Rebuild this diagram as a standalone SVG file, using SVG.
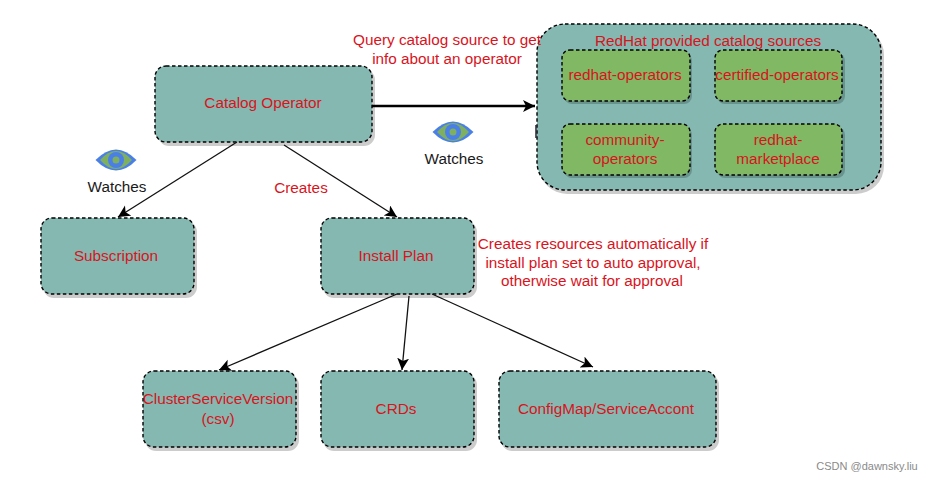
<svg xmlns="http://www.w3.org/2000/svg" width="936" height="483" viewBox="0 0 936 483">
<style>
text{font-family:"Liberation Sans",Arial,sans-serif;font-size:15.3px;fill:#d8141c;text-anchor:middle}
.k{fill:#1a1a1a}
.n{fill:#84b8b1;stroke:#000;stroke-width:1.4;stroke-dasharray:3.500 2.500}
.g{fill:#80b863;stroke:#000;stroke-width:1.4;stroke-dasharray:3.500 2.500}
.s{fill:#000;fill-opacity:.2;stroke:none}
.c{stroke:#111;stroke-width:1.3;fill:none}
</style>
<defs>
<marker id="a" markerUnits="userSpaceOnUse" markerWidth="14" markerHeight="14" refX="12" refY="6" orient="auto"><path d="M0 0L12 6L0 12L3 6Z" fill="#000"/></marker>
<g id="eye"><path d="M-20.500 0Q0 -21 20.500 0Q0 21 -20.500 0Z" fill="#4a7fe8"/><path d="M-16 0Q0 -18 16 0Q0 18 -16 0Z" fill="#7fb060"/><circle r="8" fill="#4a7fe8"/><circle r="3.500" fill="#7fb060"/></g>
</defs>
<rect width="936" height="483" fill="#fff"/>
<g id="catalog-sources">
<rect class="s" x="539" y="27" width="345" height="167" rx="28"/>
<rect class="n" x="537" y="24" width="344" height="166" rx="28"/>
<path d="M536 125V138" stroke="#223" stroke-width="1.500" fill="none"/>
<text x="708" y="46">RedHat provided catalog sources</text>
</g>
<g id="redhat-operators"><rect class="s" x="564" y="53" width="128" height="51" rx="8"/><rect class="g" x="562" y="50" width="128" height="51" rx="8"/><text x="625" y="80">redhat-operators</text></g>
<g id="certified-operators"><rect class="s" x="717" y="53" width="128" height="51" rx="8"/><rect class="g" x="715" y="50" width="127" height="51" rx="8"/><text x="777" y="80">certified-operators</text></g>
<g id="community-operators"><rect class="s" x="564" y="127" width="128" height="51" rx="8"/><rect class="g" x="562" y="124" width="128" height="51" rx="8"/><text x="625" y="145">community-</text><text x="625" y="164">operators</text></g>
<g id="redhat-marketplace"><rect class="s" x="717" y="127" width="128" height="51" rx="8"/><rect class="g" x="715" y="124" width="127" height="51" rx="8"/><text x="778" y="145">redhat-</text><text x="778" y="164">marketplace</text></g>
<g id="catalog-operator"><rect class="s" x="158" y="69" width="217" height="77" rx="11"/><rect class="n" x="155" y="66" width="217" height="76" rx="11"/><text x="263" y="108">Catalog Operator</text></g>
<g id="subscription"><rect class="s" x="43" y="221" width="154" height="77" rx="11"/><rect class="n" x="41" y="218" width="153" height="76" rx="11"/><text x="116" y="261">Subscription</text></g>
<g id="install-plan"><rect class="s" x="323" y="221" width="154" height="77" rx="11"/><rect class="n" x="321" y="218" width="153" height="76" rx="11"/><text x="396" y="261">Install Plan</text></g>
<g id="csv"><rect class="s" x="145" y="374" width="154" height="77" rx="11"/><rect class="n" x="143" y="371" width="153" height="76" rx="11"/><text x="218" y="404">ClusterServiceVersion</text><text x="218" y="424">(csv)</text></g>
<g id="crds"><rect class="s" x="323" y="374" width="154" height="77" rx="11"/><rect class="n" x="321" y="371" width="153" height="76" rx="11"/><text x="396" y="414">CRDs</text></g>
<g id="configmap"><rect class="s" x="501" y="374" width="218" height="77" rx="11"/><rect class="n" x="499" y="371" width="217" height="76" rx="11"/><text x="606" y="414">ConfigMap/ServiceAccont</text></g>
<g id="connectors">
<path d="M372 106H535" stroke="#000" stroke-width="2.600" fill="none" marker-end="url(#a)"/>
<path class="c" d="M237 142L118 217" marker-end="url(#a)"/>
<path class="c" d="M284 145L397 217" marker-end="url(#a)"/>
<path class="c" d="M397 294L219 370" marker-end="url(#a)"/>
<path class="c" d="M409 296L402 370" marker-end="url(#a)"/>
<path class="c" d="M432 294L593 367" marker-end="url(#a)"/>
</g>
<g id="watch-left"><use href="#eye" x="116" y="160"/><text class="k" x="117" y="192">Watches</text></g>
<g id="watch-right"><use href="#eye" x="453" y="132"/><text class="k" x="454" y="164">Watches</text></g>
<g id="labels">
<text x="447" y="45">Query catalog source to get</text>
<text x="447" y="64">info about an operator</text>
<text x="301" y="193">Creates</text>
<text x="593" y="249">Creates resources automatically if</text>
<text x="593" y="268">install plan set to auto approval,</text>
<text x="592" y="286">otherwise wait for approval</text>
<text x="867" y="470" style="font-size:11px;fill:#8a8a8a">CSDN @dawnsky.liu</text>
</g>
</svg>
